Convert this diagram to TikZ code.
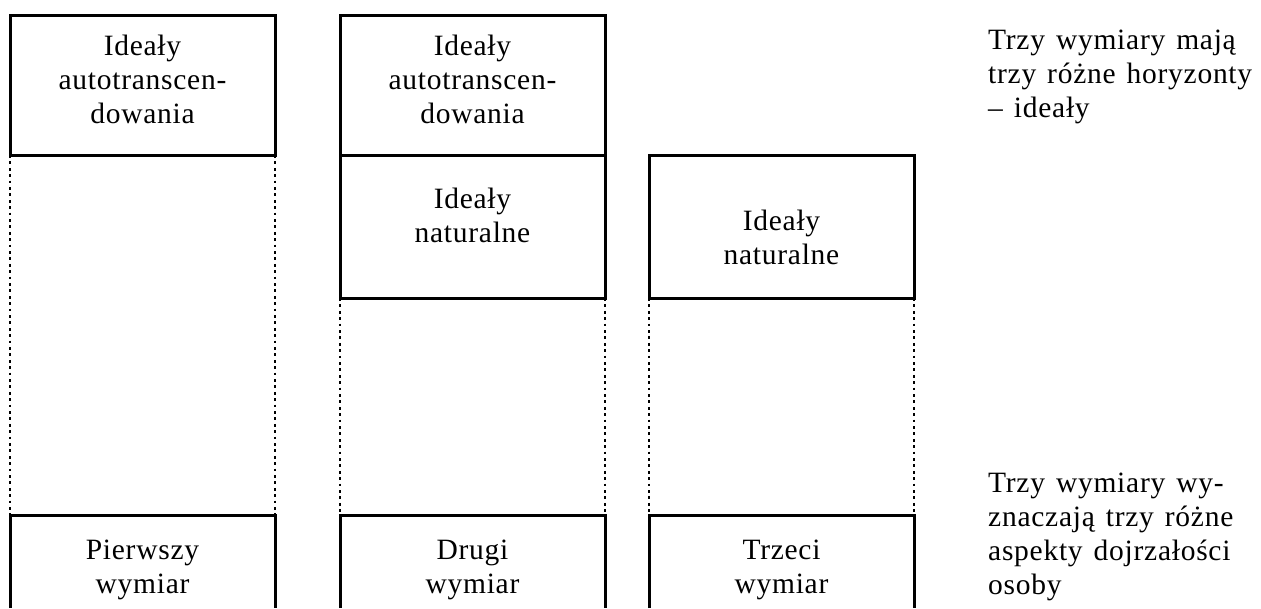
\documentclass[tikz,border=0pt]{standalone}
\usepackage{fontspec}
\setmainfont{Liberation Serif}[LetterSpace=2.5, WordSpace=1.35]
\begin{document}
\begin{tikzpicture}[x=1pt,y=-1pt,
  box/.style={draw=black, line width=3pt, minimum width=265pt, inner sep=0pt, outer sep=0pt},
  openbox/.style={minimum width=265pt, minimum height=93pt, inner sep=0pt, outer sep=0pt},
  lbl/.style={font=\fontsize{29.5}{34}\selectfont, align=center, inner sep=0pt},
  note/.style={font=\fontsize{29.5}{34}\selectfont, align=left, anchor=west, inner sep=0pt},
  dots/.style={line width=2.8pt, dash pattern=on 2.8pt off 3.6pt},
  side/.style={line width=3pt}]
\useasboundingbox (0,0) rectangle (1261,608);
% column 1
\node[box, minimum height=140pt] (a1) at (142.5,85) {};
\node[openbox] (b1) at (142.5,561.5) {};
% column 2
\node[box, minimum height=140pt] (a2) at (472.5,85) {};
\node[box, minimum height=143pt] (m2) at (472.5,226.5) {};
\node[openbox] (b2) at (472.5,561.5) {};
% column 3
\node[box, minimum height=143pt] (m3) at (781.5,226.5) {};
\node[openbox] (b3) at (781.5,561.5) {};
% open bottom boxes
\draw[side] (b1.south west) |- (b1.north east) -- (b1.south east);
\draw[side] (b2.south west) |- (b2.north east) -- (b2.south east);
\draw[side] (b3.south west) |- (b3.north east) -- (b3.south east);
% dotted connectors
\draw[dots] (a1.south west) -- (b1.north west);
\draw[dots] (a1.south east) -- (b1.north east);
\draw[dots] (m2.south west) -- (b2.north west);
\draw[dots] (m2.south east) -- (b2.north east);
\draw[dots] (m3.south west) -- (b3.north west);
\draw[dots] (m3.south east) -- (b3.north east);
% labels
\node[lbl] (t1) at (142.5,79) {Ideały\\autotranscen-\\dowania};
\node[lbl] (t2) at (472.5,79) {Ideały\\autotranscen-\\dowania};
\node[lbl] (t3) at (472.5,215) {Ideały\\naturalne};
\node[lbl] (t4) at (781.5,237) {Ideały\\naturalne};
\node[lbl] (t5) at (142.5,570) {Pierwszy\\wymiar};
\node[lbl] (t6) at (472.5,570) {Drugi\\wymiar};
\node[lbl] (t7) at (781.5,570) {Trzeci\\wymiar};
\node[note] (n1) at (988,77) {Trzy wymiary mają\\trzy różne horyzonty\\– ideały};
\node[note] (n2) at (988,537) {Trzy wymiary wy-\\znaczają trzy różne\\aspekty dojrzałości\\osoby};
\end{tikzpicture}
\end{document}
